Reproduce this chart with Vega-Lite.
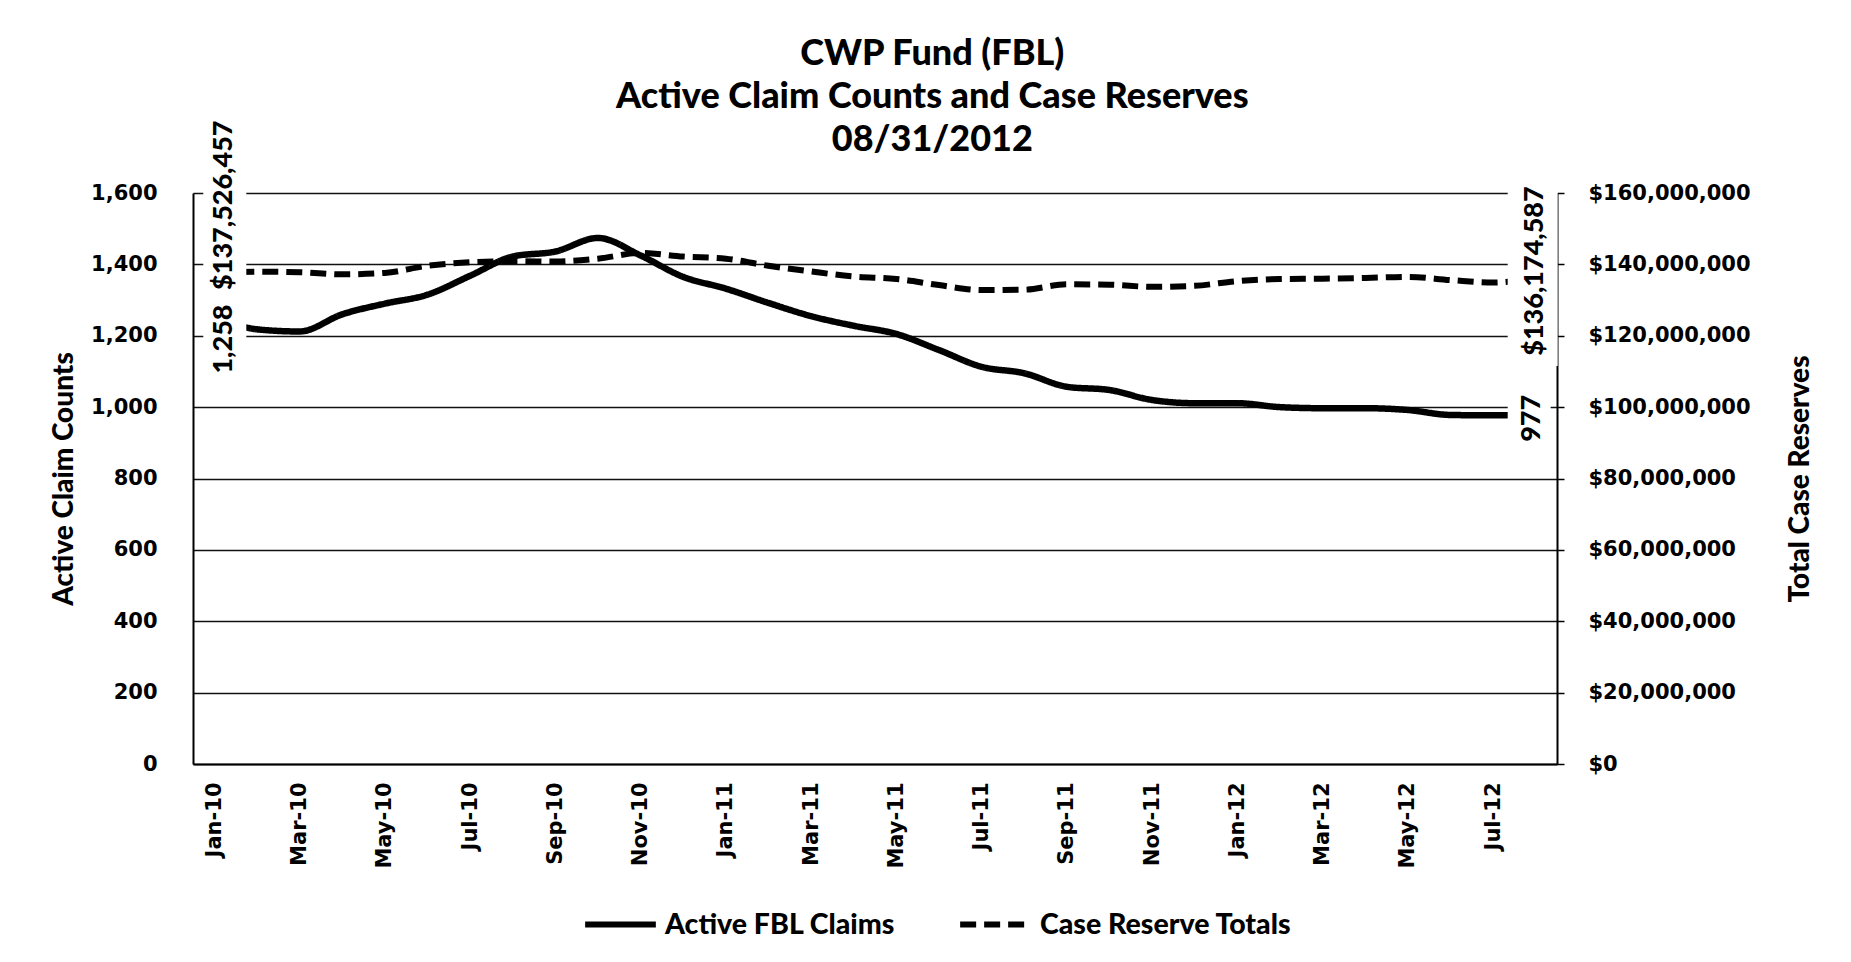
{
  "$schema": "https://vega.github.io/schema/vega-lite/v6.json",
  "width": 1364,
  "height": 571,
  "autosize": {"type": "none"},
  "padding": {"left": 193, "top": 193, "right": 294, "bottom": 198},
  "background": "white",
  "title": {
    "text": ["CWP Fund (FBL)", "Active Claim Counts and Case Reserves", "08/31/2012"],
    "font": "Lato",
    "fontSize": 36,
    "fontWeight": 900,
    "color": "#000",
    "lineHeight": 43,
    "anchor": "middle",
    "frame": "bounds",
    "offset": -49
  },
  "data": {
    "values": [
      {"month": "Jan-10", "claims": 1258, "reserves": 137526457},
      {"month": "Feb-10", "claims": 1218, "reserves": 137950000},
      {"month": "Mar-10", "claims": 1212, "reserves": 137800000},
      {"month": "Apr-10", "claims": 1260, "reserves": 137200000},
      {"month": "May-10", "claims": 1290, "reserves": 137600000},
      {"month": "Jun-10", "claims": 1315, "reserves": 139600000},
      {"month": "Jul-10", "claims": 1368, "reserves": 140600000},
      {"month": "Aug-10", "claims": 1422, "reserves": 140900000},
      {"month": "Sep-10", "claims": 1436, "reserves": 140800000},
      {"month": "Oct-10", "claims": 1474, "reserves": 141600000},
      {"month": "Nov-10", "claims": 1425, "reserves": 143200000},
      {"month": "Dec-10", "claims": 1365, "reserves": 142200000},
      {"month": "Jan-11", "claims": 1332, "reserves": 141600000},
      {"month": "Feb-11", "claims": 1292, "reserves": 139600000},
      {"month": "Mar-11", "claims": 1255, "reserves": 138000000},
      {"month": "Apr-11", "claims": 1228, "reserves": 136600000},
      {"month": "May-11", "claims": 1205, "reserves": 135900000},
      {"month": "Jun-11", "claims": 1160, "reserves": 134200000},
      {"month": "Jul-11", "claims": 1113, "reserves": 132800000},
      {"month": "Aug-11", "claims": 1095, "reserves": 132900000},
      {"month": "Sep-11", "claims": 1057, "reserves": 134400000},
      {"month": "Oct-11", "claims": 1048, "reserves": 134300000},
      {"month": "Nov-11", "claims": 1020, "reserves": 133700000},
      {"month": "Dec-11", "claims": 1011, "reserves": 134000000},
      {"month": "Jan-12", "claims": 1011, "reserves": 135300000},
      {"month": "Feb-12", "claims": 1000, "reserves": 135900000},
      {"month": "Mar-12", "claims": 997, "reserves": 136000000},
      {"month": "Apr-12", "claims": 997, "reserves": 136200000},
      {"month": "May-12", "claims": 992, "reserves": 136500000},
      {"month": "Jun-12", "claims": 978, "reserves": 135600000},
      {"month": "Jul-12", "claims": 977, "reserves": 134900000},
      {"month": "Aug-12", "claims": 977, "reserves": 136174587}
    ]
  },
  "encoding": {
    "x": {
      "field": "month",
      "type": "ordinal",
      "sort": null,
      "scale": {"type": "point", "padding": 0.5},
      "axis": {
        "title": null,
        "values": ["Jan-10", "Mar-10", "May-10", "Jul-10", "Sep-10", "Nov-10", "Jan-11", "Mar-11", "May-11", "Jul-11", "Sep-11", "Nov-11", "Jan-12", "Mar-12", "May-12", "Jul-12"],
        "labelAngle": 270,
        "labelAlign": "right",
        "labelBaseline": "middle",
        "labelFont": "DejaVu Sans",
        "labelFontWeight": "bold",
        "labelFontSize": 21,
        "labelColor": "#000",
        "labelPadding": 18,
        "ticks": false,
        "grid": false,
        "domainColor": "#000",
        "domainWidth": 2
      }
    }
  },
  "layer": [
    {
      "encoding": {
        "y": {
          "field": "claims",
          "type": "quantitative",
          "scale": {"domain": [0, 1600], "nice": false, "zero": true},
          "axis": {
            "title": "Active Claim Counts",
            "values": [0, 200, 400, 600, 800, 1000, 1200, 1400, 1600],
            "format": ",d",
            "grid": true,
            "gridColor": "#111",
            "gridWidth": 1.5,
            "domainColor": "#000",
            "domainWidth": 2,
            "ticks": false,
            "labelPadding": 36,
            "labelFont": "DejaVu Sans",
            "labelFontWeight": "bold",
            "labelFontSize": 21,
            "labelColor": "#000",
            "titleFont": "Lato",
            "titleFontSize": 28,
            "titleFontWeight": 900,
            "titleColor": "#000",
            "titlePadding": 12
          }
        }
      },
      "layer": [
        {
          "mark": {"type": "line", "color": "#000", "strokeWidth": 6.5, "interpolate": "monotone"},
          "encoding": {
            "strokeDash": {
              "datum": "Active FBL Claims",
              "type": "nominal",
              "scale": {"domain": ["Active FBL Claims", "Case Reserve Totals"], "range": [[1, 0], [16, 8]]},
              "legend": {
                "title": null,
                "orient": "none",
                "legendX": 389,
                "legendY": 693,
                "direction": "horizontal",
                "symbolType": "stroke",
                "symbolSize": 5000,
                "symbolStrokeWidth": 6,
                "symbolStrokeColor": "#000",
                "labelFont": "Lato",
                "labelFontSize": 28.5,
                "labelFontWeight": 900,
                "labelColor": "#000",
                "labelLimit": 500,
                "labelOffset": 6,
                "columnPadding": 52
              }
            }
          }
        },
        {
          "transform": [{"filter": "datum.month == 'Jan-10'"}],
          "mark": {"type": "point", "shape": "M-0.4624,-1H0.4624V1H-0.4624Z", "size": 8649, "filled": true, "fill": "white", "strokeWidth": 0, "opacity": 1, "xOffset": 10.5, "yOffset": 23.5}
        },
        {
          "transform": [{"filter": "datum.month == 'Aug-12'"}],
          "mark": {"type": "point", "shape": "M-0.597,-1H0.597V1H-0.597Z", "size": 5184, "filled": true, "fill": "white", "strokeWidth": 0, "opacity": 1, "xOffset": -6.5, "yOffset": 3.7}
        },
        {
          "transform": [{"filter": "datum.month == 'Jan-10'"}],
          "mark": {"type": "text", "angle": 270, "align": "center", "baseline": "middle", "font": "Lato", "fontSize": 27, "fontWeight": 900, "color": "#000", "xOffset": 10, "yOffset": 24},
          "encoding": {"text": {"field": "claims", "type": "quantitative", "format": ",d"}}
        },
        {
          "transform": [{"filter": "datum.month == 'Aug-12'"}],
          "mark": {"type": "text", "angle": 270, "align": "center", "baseline": "middle", "font": "Lato", "fontSize": 27, "fontWeight": 900, "color": "#000", "xOffset": -3.5, "yOffset": 3},
          "encoding": {"text": {"field": "claims", "type": "quantitative", "format": ",d"}}
        }
      ]
    },
    {
      "encoding": {
        "y": {
          "field": "reserves",
          "type": "quantitative",
          "scale": {"domain": [0, 160000000], "nice": false, "zero": true},
          "axis": {
            "orient": "right",
            "title": "Total Case Reserves",
            "values": [0, 20000000, 40000000, 60000000, 80000000, 100000000, 120000000, 140000000, 160000000],
            "format": "$,d",
            "grid": false,
            "domainColor": "#000",
            "domainWidth": 2,
            "tickColor": "#000",
            "tickSize": 7,
            "tickWidth": 1.5,
            "labelPadding": 24,
            "labelFont": "DejaVu Sans",
            "labelFontWeight": "bold",
            "labelFontSize": 21,
            "labelColor": "#000",
            "titleFont": "Lato",
            "titleFontSize": 28,
            "titleFontWeight": 900,
            "titleColor": "#000",
            "titleAngle": 270,
            "titleBaseline": "top",
            "titlePadding": 36
          }
        }
      },
      "layer": [
        {
          "mark": {"type": "line", "color": "#000", "strokeWidth": 6, "interpolate": "monotone"},
          "encoding": {
            "strokeDash": {"datum": "Case Reserve Totals", "type": "nominal"}
          }
        },
        {
          "transform": [{"filter": "datum.month == 'Jan-10'"}],
          "mark": {"type": "point", "shape": "M-0.2363,-1H0.2363V1H-0.2363Z", "size": 33124, "filled": true, "fill": "white", "strokeWidth": 0, "opacity": 1, "xOffset": 10.5, "yOffset": -72.3}
        },
        {
          "transform": [{"filter": "datum.month == 'Aug-12'"}],
          "mark": {"type": "point", "shape": "M-0.266,-1H0.266V1H-0.266Z", "size": 35344, "filled": true, "fill": "white", "strokeWidth": 0, "opacity": 1, "xOffset": -3, "yOffset": -6}
        },
        {
          "transform": [{"filter": "datum.month == 'Jan-10'"}],
          "mark": {"type": "text", "angle": 270, "align": "center", "baseline": "middle", "font": "Lato", "fontSize": 27, "fontWeight": 900, "color": "#000", "xOffset": 10, "yOffset": -68},
          "encoding": {"text": {"field": "reserves", "type": "quantitative", "format": "$,d"}}
        },
        {
          "transform": [{"filter": "datum.month == 'Aug-12'"}],
          "mark": {"type": "text", "angle": 270, "align": "center", "baseline": "middle", "font": "Lato", "fontSize": 27, "fontWeight": 900, "color": "#000", "xOffset": -1, "yOffset": -7},
          "encoding": {"text": {"field": "reserves", "type": "quantitative", "format": "$,d"}}
        }
      ]
    }
  ],
  "resolve": {"scale": {"y": "independent"}},
  "config": {
    "view": {"stroke": null},
    "font": "Lato"
  }
}
